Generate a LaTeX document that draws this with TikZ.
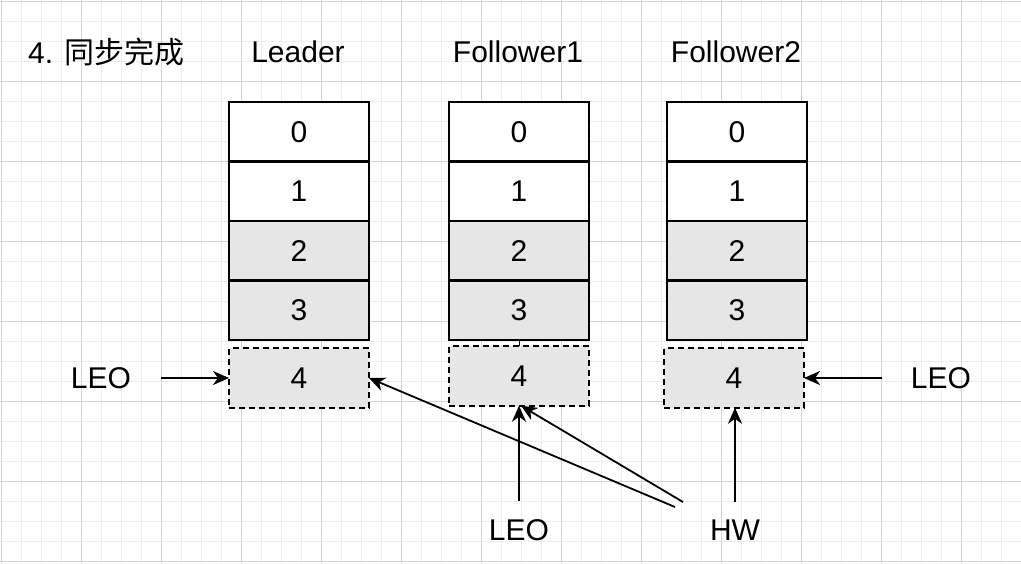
\documentclass[tikz,border=0pt]{standalone}
\usepackage{fontspec}
\setmainfont{Liberation Sans}
\newfontfamily\cjk{Noto Sans CJK SC}
\usepackage{xcolor}
\usepackage{tikz}
\usetikzlibrary{positioning}
\usetikzlibrary{arrows.meta}

\definecolor{gridminor}{HTML}{EDEDED}
\definecolor{gridmajor}{HTML}{D3D3D3}
\definecolor{cellgray}{HTML}{E6E6E6}

\begin{document}
\begin{tikzpicture}[
  x=1pt, y=-1pt,
  bigfont/.style={font=\fontsize{30pt}{36pt}\selectfont},
  label/.style={bigfont,inner sep=2pt},
  cell/.style={rectangle,draw,line width=2.2pt,minimum width=140pt,minimum height=59.5pt,
               inner sep=0pt,outer sep=0pt,bigfont,fill=white},
  grey/.style={fill=cellgray},
  newcell/.style={cell,grey,dashed,dash pattern=on 6pt off 4pt},
  pointer/.style={draw,line width=1.8pt,-{Stealth[length=16pt,width=14pt,inset=5pt]}}
]

\useasboundingbox (0,0) rectangle (1021,563);
\fill[white] (0,0) rectangle (1021,563);

% grid
\foreach \i in {0,...,51} {
  \draw[gridminor,line width=0.8pt] ({1.7+20*\i},0) -- ({1.7+20*\i},563);
}
\foreach \i in {0,...,28} {
  \draw[gridminor,line width=0.8pt] (0,{1.7+20*\i}) -- (1021,{1.7+20*\i});
}
\foreach \i in {0,...,12} {
  \draw[gridmajor,line width=0.8pt] ({1.7+80*\i},0) -- ({1.7+80*\i},563);
}
\foreach \i in {0,...,7} {
  \draw[gridmajor,line width=0.8pt] (0,{1.7+80*\i}) -- (1021,{1.7+80*\i});
}

% titles
\node[label,anchor=west] (title) at (26,52) {4. {\cjk 同步完成}};
\node[label] (leader) at (298,52) {Leader};
\node[label] (follower1) at (518,52) {Follower1};
\node[label] (follower2) at (736,52) {Follower2};

% leader log
\node[cell] (l0) at (299,131.75) {0};
\node[cell,below=0pt of l0] (l1) {1};
\node[cell,grey,below=0pt of l1] (l2) {2};
\node[cell,grey,below=0pt of l2] (l3) {3};
\node[newcell] (l4) at (299,378) {4};

% follower1 log
\node[cell] (f0) at (519,131.75) {0};
\node[cell,below=0pt of f0] (f1) {1};
\node[cell,grey,below=0pt of f1] (f2) {2};
\node[cell,grey,below=0pt of f2] (f3) {3};
\node[newcell] (f4) at (519,376) {4};
\draw[line width=1pt] (f3.south) -- (f4.north);

% follower2 log
\node[cell] (g0) at (737,131.75) {0};
\node[cell,below=0pt of g0] (g1) {1};
\node[cell,grey,below=0pt of g1] (g2) {2};
\node[cell,grey,below=0pt of g2] (g3) {3};
\node[newcell] (g4) at (734,378) {4};

% markers
\node[label] (leoL) at (101,378) {LEO};
\node[label] (leoF1) at (519,530) {LEO};
\node[label] (hw) at (735,530) {HW};
\node[label] (leoF2) at (941,378) {LEO};

\coordinate (leoLend) at (161,378);
\coordinate (leoF1end) at (519,501);
\coordinate (hwup) at (735,502);
\coordinate (hwa) at (675,507);
\coordinate (hwb) at (683,502);
\coordinate (leoF2end) at (882,378);

\draw[pointer] (leoLend) -- (l4.west);
\draw[pointer] (leoF1end) -- (f4.south);
\draw[pointer] (hwa) -- (l4.east);
\draw[pointer] (hwb) -- ([xshift=2pt]f4.south);
\draw[pointer] (hwup) -- (hwup |- g4.south);
\draw[pointer] (leoF2end) -- (g4.east);

\end{tikzpicture}
\end{document}
